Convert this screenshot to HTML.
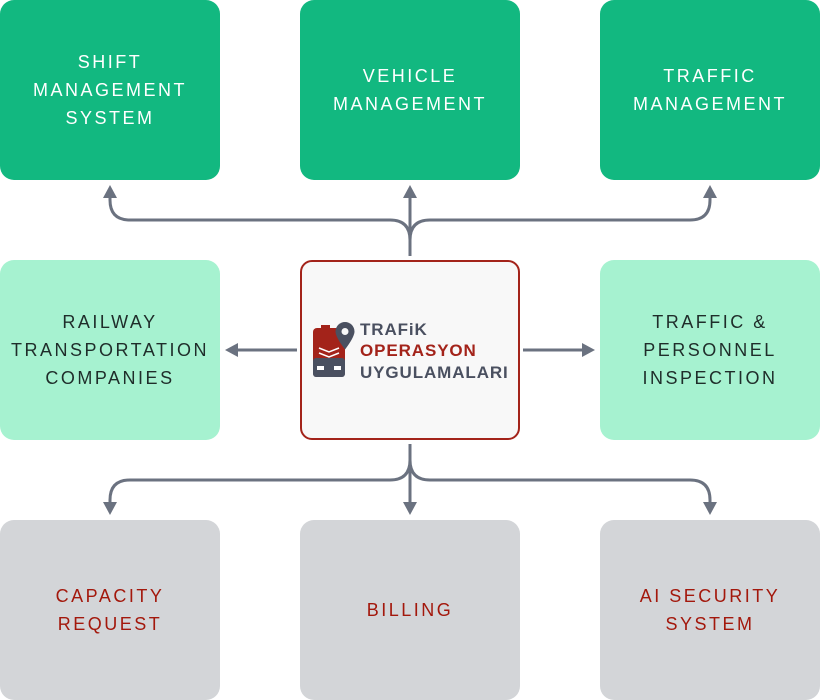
<!DOCTYPE html>
<html><head><meta charset="utf-8"><style>
body{margin:0;width:820px;height:700px;background:#fff;position:relative;overflow:hidden;font-family:"Liberation Sans",sans-serif}
.b{position:absolute;width:220px;height:180px;border-radius:14px;display:flex;align-items:center;justify-content:center;text-align:center;font-size:18px;letter-spacing:2.5px;line-height:28px}
.g{background:#12b880;color:#fff;top:0}
.l{background:#a6f2d0;color:#1f2d2a;top:260px}
.d{background:#d3d5d8;color:#a3180c;top:520px}
.c{position:absolute;left:300px;top:260px;width:216px;height:176px;border:2px solid #a3231a;border-radius:12px;background:#f8f8f8}
</style></head><body>
<div class="b g" style="left:0">SHIFT<br>MANAGEMENT<br>SYSTEM</div>
<div class="b g" style="left:300px">VEHICLE<br>MANAGEMENT</div>
<div class="b g" style="left:600px">TRAFFIC<br>MANAGEMENT</div>
<div class="b l" style="left:0">RAILWAY<br>TRANSPORTATION<br>COMPANIES</div>
<div class="b l" style="left:600px">TRAFFIC &amp;<br>PERSONNEL<br>INSPECTION</div>
<div class="b d" style="left:0">CAPACITY<br>REQUEST</div>
<div class="b d" style="left:300px">BILLING</div>
<div class="b d" style="left:600px">AI SECURITY<br>SYSTEM</div>
<div class="c"></div>
<svg width="820" height="700" style="position:absolute;left:0;top:0">
<g fill="none" stroke="#6b7280" stroke-width="3">
<path d="M410 256 V195"/>
<path d="M410 240 Q410 220 390 220 H130 Q110 220 110 200 V196"/>
<path d="M410 240 Q410 220 430 220 H690 Q710 220 710 200 V196"/>
<path d="M410 444 V505"/>
<path d="M410 460 Q410 480 390 480 H130 Q110 480 110 500 V504"/>
<path d="M410 460 Q410 480 430 480 H690 Q710 480 710 500 V504"/>
<path d="M297 350 H236"/>
<path d="M523 350 H584"/>
</g>
<g fill="#6b7280">
<path d="M103 198 L117 198 L110 185Z"/>
<path d="M403 198 L417 198 L410 185Z"/>
<path d="M703 198 L717 198 L710 185Z"/>
<path d="M103 502 L117 502 L110 515Z"/>
<path d="M403 502 L417 502 L410 515Z"/>
<path d="M703 502 L717 502 L710 515Z"/>
<path d="M238 343 L238 357 L225 350Z"/>
<path d="M582 343 L582 357 L595 350Z"/>
</g>
<g>
<rect x="313" y="328" width="32" height="49" rx="4" fill="#a3231a"/>
<rect x="313" y="358" width="32" height="19" rx="3" fill="#4a5060"/>
<rect x="317" y="366" width="7" height="4" fill="#fff"/>
<rect x="334" y="366" width="7" height="4" fill="#fff"/>
<rect x="321" y="325" width="9" height="4" fill="#a3231a"/>
<path d="M319 348 l10 4 l10 -4 M319 353 l10 4 l10 -4" stroke="#fff" stroke-width="1.5" fill="none"/>
<path d="M345 322 a9.5 9.5 0 0 1 9.5 9.5 c0 6 -9.5 18 -9.5 18 c0 0 -9.5 -12 -9.5 -18 a9.5 9.5 0 0 1 9.5 -9.5z" fill="#4a5060"/>
<circle cx="345" cy="331.5" r="3.5" fill="#f8f8f8"/>
</g>
<g font-family="Liberation Sans,sans-serif" font-weight="bold" font-size="17" letter-spacing="0.9">
<text x="360" y="335" fill="#4a5060">TRAFiK</text>
<text x="360" y="356" fill="#a3231a">OPERASYON</text>
<text x="360" y="378" fill="#4a5060">UYGULAMALARI</text>
</g>
</svg>
</body></html>
